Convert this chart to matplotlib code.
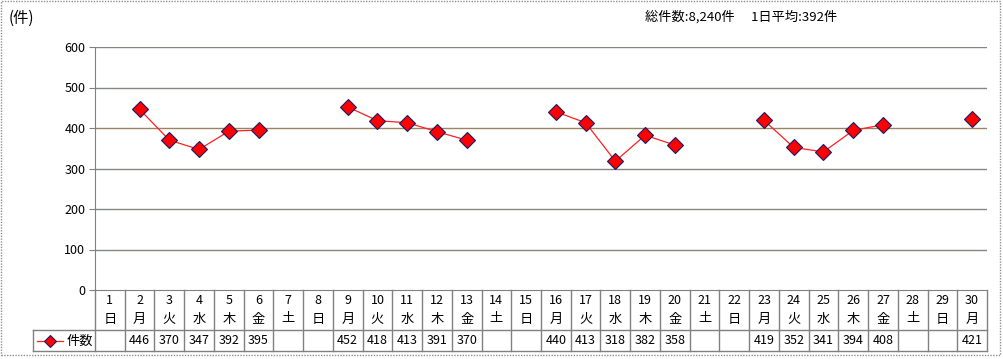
import numpy as np
import matplotlib.pyplot as plt
from matplotlib.patches import Rectangle

plt.rcParams['font.family'] = ['Noto Sans CJK JP', 'DejaVu Sans']

# daily data
days = list(range(1, 31))
weekdays = ['日', '月', '火', '水', '木', '金', '土',
            '日', '月', '火', '水', '木', '金', '土',
            '日', '月', '火', '水', '木', '金', '土',
            '日', '月', '火', '水', '木', '金', '土',
            '日', '月']
counts = [None, 446, 370, 347, 392, 395, None,
          None, 452, 418, 413, 391, 370, None,
          None, 440, 413, 318, 382, 358, None,
          None, 419, 352, 341, 394, 408, None,
          None, 421]
y_ticks = [0, 100, 200, 300, 400, 500, 600]
summary = '総件数:8,240件　 1日平均:392件'
series_name = '件数'

W, H = 1004, 359
fig = plt.figure(figsize=(W / 100, H / 100), dpi=100)

# plot area in pixels
left, right, top, bottom = 95, 987, 47, 290
ax = fig.add_axes([left / W, 1 - bottom / H, (right - left) / W, (bottom - top) / H])

vals = np.array([np.nan if v is None else v for v in counts], dtype=float)
ax.plot(days, vals, color='#ff2020', lw=0.9, marker='D', markersize=8,
        markerfacecolor='#ff0000', markeredgecolor='#1a1a66', markeredgewidth=0.8,
        zorder=3)

ax.set_xlim(0.5, 30.5)
ax.set_ylim(0, 600)
ax.set_yticks(y_ticks)
ax.set_yticklabels([str(t) for t in y_ticks], fontsize=9)
ax.tick_params(axis='y', length=4, color='#808080', pad=3)
ax.set_xticks([])
for t in y_ticks[1:]:
    c = '#9a8262' if t == 400 else '#808880'
    ax.axhline(t, color=c, lw=1, zorder=1)
for s in ['top', 'right']:
    ax.spines[s].set_visible(False)
ax.spines['left'].set_color('#808080')
ax.spines['bottom'].set_color('#808080')

# data table under the plot (figure pixel coords -> fraction)
def fx(px):
    return px / W

def fy(py):
    return 1 - py / H

col_w = (right - left) / len(days)
row_mid = 330
row_bot = 351
lc = '#808080'
fig.add_artist(plt.Line2D([fx(left), fx(left)], [fy(bottom), fy(row_bot)], color=lc, lw=1))
for i in range(1, len(days) + 1):
    x = left + i * col_w
    fig.add_artist(plt.Line2D([fx(x), fx(x)], [fy(bottom), fy(row_bot)], color=lc, lw=1))
fig.add_artist(plt.Line2D([fx(33), fx(right)], [fy(row_mid), fy(row_mid)], color=lc, lw=1))
fig.add_artist(plt.Line2D([fx(33), fx(right)], [fy(row_bot), fy(row_bot)], color=lc, lw=1))
fig.add_artist(plt.Line2D([fx(33), fx(33)], [fy(row_mid), fy(row_bot)], color=lc, lw=1))

for i, d in enumerate(days):
    cx = left + (i + 0.5) * col_w
    fig.text(fx(cx), fy(300), str(d), ha='center', va='center', fontsize=9)
    fig.text(fx(cx), fy(319), weekdays[i], ha='center', va='center', fontsize=9.5)
    if counts[i] is not None:
        fig.text(fx(cx), fy(341), str(counts[i]), ha='center', va='center', fontsize=9)

# legend key in the table
fig.add_artist(plt.Line2D([fx(37), fx(63)], [fy(341), fy(341)], color='#ff2020', lw=0.9))
fig.add_artist(plt.Line2D([fx(50)], [fy(341)], marker='D', markersize=6,
                          markerfacecolor='#ff0000', markeredgecolor='#1a1a66',
                          markeredgewidth=0.8, lw=0))
fig.text(fx(67), fy(341), series_name, ha='left', va='center', fontsize=9.5)

fig.text(fx(9), fy(18), '(件)', ha='left', va='center', fontsize=11)
fig.text(fx(645), fy(17), summary, ha='left', va='center', fontsize=9.5)

# dashed outer border
fig.add_artist(Rectangle((fx(1), fy(355)), fx(999), (354) / H, fill=False,
                         edgecolor='#909090', lw=1, ls=(0, (1, 1))))

fig.savefig('out.png', dpi=100)
